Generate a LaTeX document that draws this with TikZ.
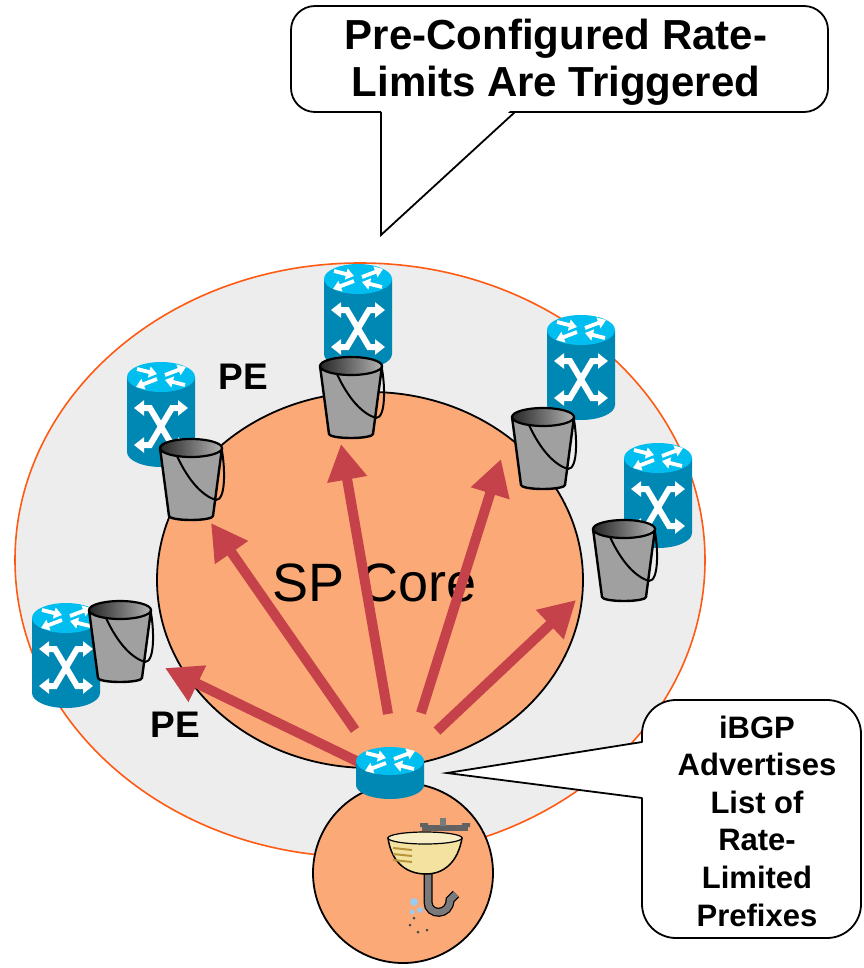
\documentclass[tikz,border=0pt]{standalone}
\usepackage{fontspec}
\setmainfont{Liberation Sans}
\usetikzlibrary{arrows.meta}

\definecolor{ringgray}{HTML}{EDEDED}
\definecolor{salmon}{HTML}{FBA976}
\definecolor{ringline}{HTML}{FF5A14}
\definecolor{arrowred}{HTML}{C6424B}
\definecolor{swtop}{HTML}{00BFF0}
\definecolor{swbody}{HTML}{0088B5}
\definecolor{pailgray}{HTML}{A0A0A0}
\definecolor{basin}{HTML}{F3E2A0}
\definecolor{basindark}{HTML}{B8963C}
\definecolor{pipegray}{HTML}{7A7A7A}
\definecolor{splash}{HTML}{9CCBF2}

\tikzset{
  flow/.style={arrowred, line width=10pt, -{Triangle[length=36pt,width=38pt]}},
  whitearrow/.style={white, line width=3.8pt, -{Triangle[length=8pt,width=11pt]}},
  xarrow/.style={white, line width=6pt, {Triangle[length=10pt,width=15pt]}-{Triangle[length=10pt,width=15pt]}},
  pelabel/.style={font=\bfseries\fontsize{37}{40}\selectfont},
  calltext/.style={font=\bfseries, align=center},
  callout/.style={draw=black, fill=white, line width=1.8pt},
}

% arrows on the top face of a router, face centred at (0,0)
\newcommand{\routertop}{%
  \draw[whitearrow] (-24,-8) -- (-4,-3);
  \draw[whitearrow] (4,-2) -- (25,-10);
  \draw[whitearrow] (-4,2) -- (-25,10);
  \draw[whitearrow] (24,8) -- (4,3);
}

% PE switch, top face centred at (#1,#2)
\newcommand{\pesw}[2]{%
  \begin{scope}[shift={(#1,#2)}]
    \fill[swbody] (-34,0) -- (-34,75) arc[start angle=180,end angle=0,x radius=34,y radius=15] -- (34,0) -- cycle;
    \fill[swtop] (0,0) ellipse[x radius=34,y radius=15];
    \routertop
    \draw[xarrow] (-27,31) -- (-11,31) -- (11,68) -- (27,68);
    \draw[xarrow] (27,31) -- (11,31) -- (-11,68) -- (-27,68);
  \end{scope}}

% bucket, rim centred at (#1,#2)
\newcommand{\pail}[2]{%
  \begin{scope}[shift={(#1,#2)}]
    \filldraw[fill=pailgray, draw=black, line width=2.4pt, line join=round] (-31,0) -- (-22,68) arc[start angle=180,end angle=0,x radius=22,y radius=4] -- (31,0) -- cycle;
    \shade[left color=black!85, right color=black!30] (0,0) ellipse[x radius=31,y radius=9];
    \draw[line width=2.2pt] (0,0) ellipse[x radius=31,y radius=9];
    \draw[line width=2pt] (-14,8) .. controls (-2,34) and (12,48) .. (25,52) .. controls (35,52) and (34,20) .. (31,3);
  \end{scope}}

\begin{document}
\begin{tikzpicture}[x=1pt,y=-1pt]
  \useasboundingbox (0,0) rectangle (863,968);

  % provider ring and core
  \filldraw[fill=ringgray, draw=ringline, line width=1.6pt] (360,560) ellipse[x radius=345,y radius=297];
  \filldraw[fill=salmon, draw=black, line width=1.8pt] (370,580) ellipse[x radius=213,y radius=188];
  \node[font=\fontsize{54}{60}\selectfont] (core) at (375,583) {SP Core};

  % advertisements from the sink router
  \coordinate (s1) at (375,770);  \coordinate (d1) at (165,668);
  \coordinate (s2) at (355,730);  \coordinate (d2) at (211,523);
  \coordinate (s3) at (388,714);  \coordinate (d3) at (341,444);
  \coordinate (s4) at (421,713);  \coordinate (d4) at (501,459);
  \coordinate (s5) at (437,731);  \coordinate (d5) at (576,600);
  \foreach \i in {1,...,5}
    \draw[flow] (s\i) -- (d\i);

  % sink site
  \filldraw[fill=salmon, draw=black, line width=1.8pt] (403,873) circle[radius=90];
  \fill[pipegray!80!black] (422,825) rectangle (468,831);
  \fill[pipegray!80!black] (420,823) rectangle (428,827) (462,823) rectangle (470,827);
  \fill[pipegray] (440,818) rectangle (446,826);
  \draw[line width=9pt, black] (428,870) -- (428,902) .. controls (428,916) and (450,916) .. (450,900) -- (456,894);
  \draw[line width=6.5pt, pipegray] (428,870) -- (428,902) .. controls (428,916) and (450,916) .. (450,900) -- (456,894);
  \filldraw[fill=basin, draw=black, line width=1.5pt] (388,838) .. controls (392,866) and (410,874) .. (426,874) .. controls (444,874) and (458,862) .. (462,838) -- cycle;
  \filldraw[fill=basin!60!white, draw=black, line width=1.2pt] (425,838) ellipse[x radius=37,y radius=6];
  \foreach \yy in {848,854,860}
    \draw[basindark, line width=2pt] (393,\yy) -- (412,\yy+2);
  \fill[splash] (414,902) circle[radius=4] (420,910) circle[radius=3] (412,912) circle[radius=2.5];
  \foreach \px/\py in {410/925,418/932,427/930,414/918}
    \fill[pipegray!60!black] (\px,\py) circle[radius=1.5];

  % sink router
  \begin{scope}[shift={(390,761)}]
    \fill[swbody] (-34,0) -- (-34,24) arc[start angle=180,end angle=0,x radius=34,y radius=14] -- (34,0) -- cycle;
    \fill[swtop] (0,0) ellipse[x radius=34,y radius=14];
    \routertop
  \end{scope}

  % PE switches with their buckets
  \pesw{358}{279}
  \pesw{581}{330}
  \pesw{658}{458}
  \pesw{161}{377}
  \pesw{66}{618}
  \pail{351}{366}
  \pail{543}{417}
  \pail{624}{529}
  \pail{191}{448}
  \pail{120}{610}

  \node[pelabel] (peA) at (243,377) {PE};
  \node[pelabel] (peB) at (175,725) {PE};

  % callouts
  \draw[callout, rounded corners=24pt] (291,6) rectangle (828,112);
  \fill[white] (381,106) -- (381,235) -- (515,106) -- cycle;
  \draw[line width=1.8pt] (381,112) -- (381,235) -- (515,112);
  \node[calltext, font=\bfseries\fontsize{42}{47}\selectfont] (trig) at (556,62) {Pre-Configured Rate-\\Limits Are Triggered};

  \draw[callout, rounded corners=34pt] (642,700) rectangle (861,938);
  \fill[white] (646,742) -- (447,773) -- (646,798) -- cycle;
  \draw[line width=1.8pt] (642,742) -- (447,773) -- (642,798);
  \node[calltext, font=\bfseries\fontsize{31}{37.6}\selectfont] (adv) at (757,821) {iBGP\\Advertises\\List of\\Rate-\\Limited\\Prefixes};
\end{tikzpicture}
\end{document}
